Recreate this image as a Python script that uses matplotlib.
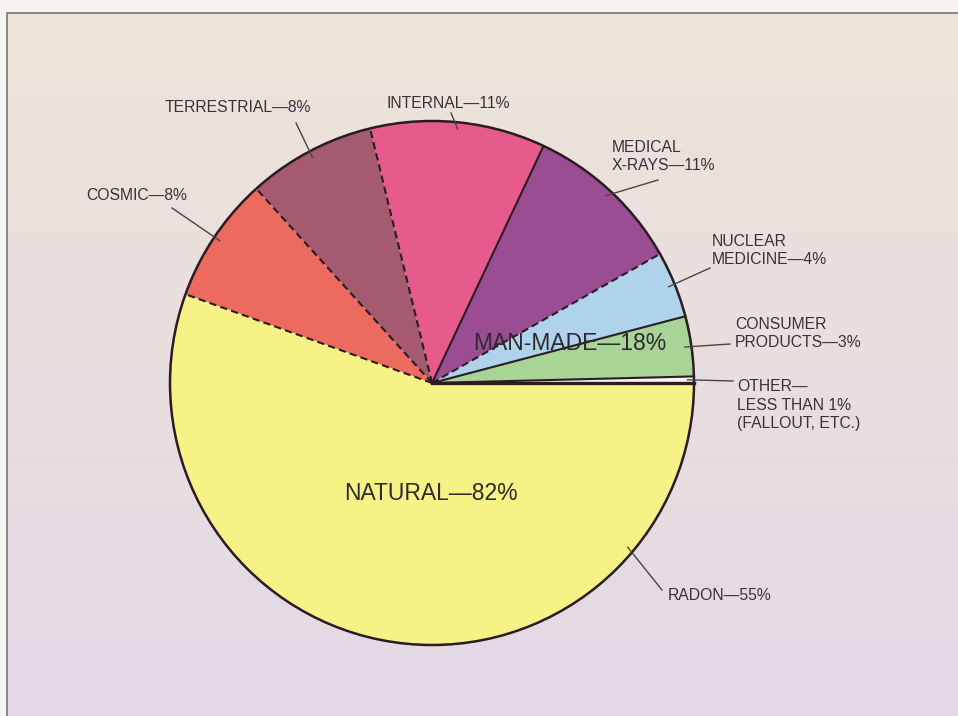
import numpy as np
import matplotlib
matplotlib.use("Agg")
import matplotlib.pyplot as plt
from matplotlib.patches import Circle

plt.rcParams['font.family'] = ['Liberation Sans', 'DejaVu Sans']

# Доли источников облучения (против часовой стрелки от 0°)
sources = ['OTHER', 'CONSUMER PRODUCTS', 'NUCLEAR MEDICINE', 'MEDICAL X-RAYS',
           'INTERNAL', 'TERRESTRIAL', 'COSMIC', 'RADON']
shares = [0.4, 3.7, 4.1, 9.8, 10.8, 7.9, 7.8, 55.5]
labels = ['OTHER—\nLESS THAN 1%\n(FALLOUT, ETC.)', 'CONSUMER\nPRODUCTS—3%',
          'NUCLEAR\nMEDICINE—4%', 'MEDICAL\nX-RAYS—11%', 'INTERNAL—11%',
          'TERRESTRIAL—8%', 'COSMIC—8%', 'RADON—55%']
group_labels = ['MAN-MADE—18%', 'NATURAL—82%']

colors = ['#f7f4f1', '#a8d496', '#aed3ea', '#9a4d93',
          '#e65a8c', '#a55a70', '#ec6a5e', '#f6f285']
# стиль границы перед каждым сектором (theta1)
edge_styles = ['-', '-', '-', '--', '-', '--', '--', '--']

W, H = 958, 716
cx, cy, R = 432, H - 383, 262
txt_color = '#37313a'
line_color = '#2a1c22'

fig = plt.figure(figsize=(W / 100, H / 100), dpi=100, facecolor='#f6f4f1')
ax = fig.add_axes([0, 0, 1, 1])

# фон с лёгким градиентом
grad = np.linspace(0, 1, 256)[:, None]
bg = np.array([[0.930, 0.895, 0.850]]) * (1 - grad) + np.array([[0.890, 0.850, 0.900]]) * grad
ax.imshow(bg[:, None, :].repeat(2, axis=1), extent=(7, W, 0, H - 13),
          aspect='auto', origin='upper', zorder=0)
ax.plot([7, 7, W], [0, H - 13, H - 13], color='#7a7478', lw=1.2, zorder=1)

wedges, _ = ax.pie(shares, colors=colors, startangle=0, counterclock=True,
                   center=(cx, cy), radius=R, frame=True,
                   wedgeprops=dict(linewidth=0, edgecolor='none'))
for w in wedges:
    w.set_zorder(2)

# радиальные границы
for w, ls in zip(wedges, edge_styles):
    a = np.deg2rad(w.theta1)
    lw = 2.4 if w.theta1 == 0 else 1.5
    line, = ax.plot([cx, cx + R * np.cos(a)], [cy, cy + R * np.sin(a)],
                    color=line_color, lw=lw, ls=ls, zorder=3)
    if ls == '--':
        line.set_dashes((3.5, 2))
ax.add_patch(Circle((cx, cy), R, fill=False, ec=line_color, lw=1.8, zorder=4))

# подписи и выноски (координаты в пикселях сверху)
label_pos = [(737, 405), (735, 333.5), (712, 250.5), (612, 156.5),
             (448, 103), (165, 107), (86, 196), (668, 596)]
leader_start = [(733, 381), (730, 344), (710, 268), (658, 180),
                (451, 113), (296, 123), (172, 208), (662, 590)]
leader_angle = [None, None, None, None, None, None, None, -40]

for w, lab, (tx, ty), (sx, sy), ang in zip(wedges, labels, label_pos, leader_start, leader_angle):
    ha = 'center' if lab.startswith('INTERNAL') else 'left'
    ax.text(tx, H - ty, lab, ha=ha, va='center', fontsize=11.3, color=txt_color,
            linespacing=1.33, zorder=5)
    if ang is None:
        ang = (w.theta1 + w.theta2) / 2
    a = np.deg2rad(ang)
    ax.plot([sx, cx + 0.975 * R * np.cos(a)], [H - sy, cy + 0.975 * R * np.sin(a)],
            color='#4a4446', lw=1.0, zorder=5)

ax.text(570, H - 343, group_labels[0], ha='center', va='center', fontsize=16.5,
        color='#2e2a30', zorder=5)
ax.text(431, H - 493, group_labels[1], ha='center', va='center', fontsize=16.5,
        color='#2e2a30', zorder=5)

ax.set_xlim(0, W)
ax.set_ylim(0, H)
ax.set_aspect('auto')
ax.axis('off')

fig.savefig('out.png', dpi=100, facecolor=fig.get_facecolor())
